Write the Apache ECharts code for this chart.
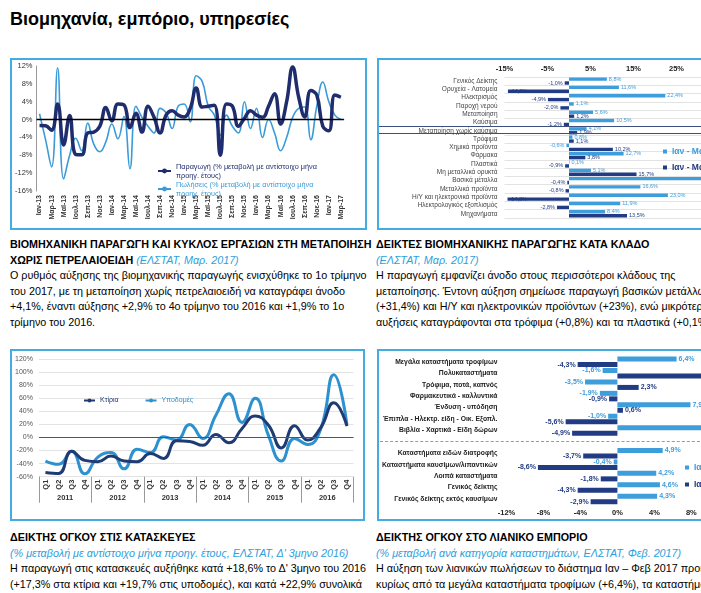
<!DOCTYPE html>
<html><head><meta charset="utf-8">
<script src="https://cdn.jsdelivr.net/npm/echarts@6/dist/echarts.min.js"></script>
<style>
html,body{margin:0;padding:0;background:#fff;}
body{width:701px;height:593px;overflow:hidden;position:relative;font-family:'Liberation Sans',Arial,sans-serif;}
.box{position:absolute;border:2px solid #43ADE0;box-sizing:border-box;}
.chart{position:absolute;}
.txt{position:absolute;white-space:nowrap;font-size:10.75px;line-height:15.5px;color:#000;}
.txt b{font-weight:bold;}
.src{color:#2EA0DC;font-style:italic;}
</style></head><body>
<div style="position:absolute;left:10px;top:9px;font-size:18px;font-weight:bold;">Βιομηχανία, εμπόριο, υπηρεσίες</div>

<div class="box" style="left:10px;top:58px;width:357px;height:172px;"></div>
<div class="box" style="left:377px;top:58px;width:340px;height:172px;"></div>
<div class="box" style="left:10px;top:349px;width:355px;height:172px;"></div>
<div class="box" style="left:377px;top:349px;width:340px;height:172px;"></div>

<div id="c1" class="chart" style="left:12px;top:60px;width:353px;height:168px;"></div>
<div id="c2" class="chart" style="left:379px;top:60px;width:400px;height:168px;"></div>
<div id="c3" class="chart" style="left:12px;top:351px;width:351px;height:168px;"></div>
<div id="c4" class="chart" style="left:379px;top:351px;width:400px;height:168px;"></div>

<div style="position:absolute;left:379px;top:125.5px;width:330px;height:6px;border-top:1px solid #3b4f80;border-bottom:1px solid #3b4f80;"></div>
<div style="position:absolute;left:380px;top:441px;width:330px;height:0;border-top:1px dashed #9a9a9a;"></div>

<div class="txt" style="left:10px;top:237px;"><b>ΒΙΟΜΗΧΑΝΙΚΗ ΠΑΡΑΓΩΓΗ ΚΑΙ ΚΥΚΛΟΣ ΕΡΓΑΣΙΩΝ ΣΤΗ ΜΕΤΑΠΟΙΗΣΗ</b><br><b>ΧΩΡΙΣ ΠΕΤΡΕΛΑΙΟΕΙΔΗ</b> <span class="src">(ΕΛΣΤΑΤ, Μαρ. 2017)</span><br>Ο ρυθμός αύξησης της βιομηχανικής παραγωγής ενισχύθηκε το 1ο τρίμηνο<br>του 2017, με τη μεταποίηση χωρίς πετρελαιοειδή να καταγράφει άνοδο<br>+4,1%, έναντι αύξησης +2,9% το 4ο τρίμηνο του 2016 και +1,9% το 1ο<br>τρίμηνο του 2016.</div>

<div class="txt" style="left:376px;top:237px;"><b>ΔΕΙΚΤΕΣ ΒΙΟΜΗΧΑΝΙΚΗΣ ΠΑΡΑΓΩΓΗΣ ΚΑΤΑ ΚΛΑΔΟ</b><br><span class="src">(ΕΛΣΤΑΤ, Μαρ. 2017)</span><br>Η παραγωγή εμφανίζει άνοδο στους περισσότεροι κλάδους της<br>μεταποίησης. Έντονη αύξηση σημείωσε παραγωγή βασικών μετάλλων<br>(+31,4%) και Η/Υ και ηλεκτρονικών προϊόντων (+23%), ενώ μικρότερες<br>αυξήσεις καταγράφονται στα τρόφιμα (+0,8%) και τα πλαστικά (+0,1%).</div>

<div class="txt" style="left:10px;top:530px;"><b>ΔΕΙΚΤΗΣ ΟΓΚΟΥ ΣΤΙΣ ΚΑΤΑΣΚΕΥΕΣ</b><br><span class="src">(% μεταβολή με αντίστοιχο μήνα προηγ. έτους, ΕΛΣΤΑΤ, Δ' 3μηνο 2016)</span><br>Η παραγωγή στις κατασκευές αυξήθηκε κατά +18,6% το Δ' 3μηνο του 2016<br>(+17,3% στα κτίρια και +19,7% στις υποδομές), και κατά +22,9% συνολικά</div>

<div class="txt" style="left:376px;top:530px;"><b>ΔΕΙΚΤΗΣ ΟΓΚΟΥ ΣΤΟ ΛΙΑΝΙΚΟ ΕΜΠΟΡΙΟ</b><br><span class="src">(% μεταβολή ανά κατηγορία καταστημάτων, ΕΛΣΤΑΤ, Φεβ. 2017)</span><br>Η αύξηση των λιανικών πωλήσεων το διάστημα Ιαν – Φεβ 2017 προήλθε<br>κυρίως από τα μεγάλα καταστήματα τροφίμων (+6,4%), τα καταστήματα</div>

<script>
// ---------- Panel 1: industrial production & sales (monthly, % y/y) ----------
const monthNames = ['Ιαν','Φεβ','Μαρ','Απρ','Μαϊ','Ιουν','Ιουλ','Αυγ','Σεπ','Οκτ','Νοε','Δεκ'];
const monthYears = ['13','14','15','16','17'];
const production = [-1.3,-1.4,-2.4,3.5,-5.7,0.9,-7.8,-7.9,-3.0,-2.8,-1.5,2.7,
  -0.3,3.5,3.3,-1.8,1.4,-2.8,3.0,0.5,-3.0,1.0,2.0,1.0,
  0.6,2.5,7.1,2.8,3.0,3.2,-8.0,3.5,3.0,-1.5,0.3,2.0,
  1.0,0.5,3.0,5.8,-1.0,4.0,11.8,5.0,0.6,6.5,5.5,-1.5,
  -2.5,5.5,5.0];
const sales = [1.3,-4.5,-10.6,11.6,-13.3,-8.0,-4.2,-7.0,-0.8,-5.5,-7.2,-5.0,
  -1.0,-4.3,0.7,-11.0,3.0,0.5,-1.5,-3.0,2.5,1.5,-2.0,3.0,
  3.5,-0.5,9.8,8.5,3.0,1.0,-3.5,1.0,-1.5,-3.0,4.0,-2.0,
  2.5,-4.0,0.0,-3.0,-7.0,-4.0,0.5,2.5,2.8,-4.5,3.0,8.4,
  4.0,1.0,0.0];
const p1Names = ['Παραγωγή (% μεταβολή με αντίστοιχο μήνα\nπροηγ. έτους)','Πωλήσεις (% μεταβολή με αντίστοιχο μήνα\nπροηγ. έτους)'];

// ---------- Panel 2: industrial production by branch ----------
const branches = ['Γενικός Δείκτης','Ορυχεία - Λατομεία','Ηλεκτρισμός','Παροχή νερού','Μεταποίηση','Καύσιμα','Μεταποίηση χωρίς καύσιμα','Τρόφιμα','Χημικά προϊόντα','Φάρμακα','Πλαστικά','Μη μεταλλικά ορυκτά','Βασικά μέταλλα','Μεταλλικά προϊόντα','Η/Υ και ηλεκτρονικά προϊόντα','Ηλεκτρολογικός εξοπλισμός','Μηχανήματα'];
const branch2017 = [8.8,11.6,22.4,1.1,5.6,10.5,4.1,0.8,-0.6,12.7,0.1,5.1,31.4,16.6,23.0,11.9,8.4];
const branch2016 = [-1.0,-14.2,-4.9,-2.0,1.2,-1.2,1.9,1.1,10.2,3.8,-0.9,15.7,-0.4,-0.8,-14.3,-2.8,13.5];
const p2Names = ['Ιαν - Μαρ 2017','Ιαν - Μαρ 2016'];
const p2Ticks = [-15,35,10];

// ---------- Panel 3: construction volume ----------
const quarters = ['Q1','Q2','Q3','Q4','Q1','Q2','Q3','Q4','Q1','Q2','Q3','Q4','Q1','Q2','Q3','Q4','Q1','Q2','Q3','Q4','Q1','Q2','Q3','Q4'];
const qYears = ['2011','2012','2013','2014','2015','2016'];
const buildings = [-53.5,-55,-21,-35,-37,-28.5,-36,-37,-24.5,-32,-5,-6,-12,4.6,-8,13.8,33,19,-16,18,-4,15,53,17.3];
const infrastructure = [-36,-41,-21,-55.6,-30,-23,-48,-18,-23,1,-4,20,-1.5,34,67,23,60,3.5,-36,-1.5,-10.7,13,96,19.7];
const p3Names = ['Κτίρια','Υποδομές'];

// ---------- Panel 4: retail volume by store type ----------
const stores = ['Μεγάλα καταστήματα τροφίμων','Πολυκαταστήματα','Τρόφιμα, ποτά, καπνός','Φαρμακευτικά - καλλυντικά','Ένδυση - υπόδηση','Έπιπλα - Ηλεκτρ. είδη - Οικ. Εξοπλ.','Βιβλία - Χαρτικά - Είδη δώρων','','Καταστήματα ειδών διατροφής','Καταστήματα καυσίμων/λιπαντικών','Λοιπά καταστήματα','Γενικός δείκτης','Γενικός δείκτης εκτός καυσίμων'];
const stores2017 = [6.4,-1.6,-3.5,-1.9,7.9,-1.0,11.0,null,4.9,-0.4,4.2,4.6,4.3];
const stores2016 = [-4.3,12.5,2.3,-0.9,0.6,-5.6,-4.9,null,-3.7,-8.6,-1.8,-4.3,-2.9];
const p4Names = ['Ιαν - Φεβ 2017','Ιαν - Φεβ 2016'];
const p4Ticks = [-12,16,4];

const FONT = 'Liberation Sans, Arial, sans-serif';
const NAVY = '#1F2D6E', LIGHT = '#3A9BD8';
const BAR_LIGHT = '#3E9DDB', BAR_DARK = '#213C84';
const fmt = v => v.toFixed(1).replace('.', ',') + '%';

const months = [];
monthYears.forEach(y => monthNames.forEach(m => months.push(m + '-' + y)));
months.length = production.length;

// Panel 1
echarts.init(document.getElementById('c1')).setOption({
  animation: false,
  textStyle: {fontFamily: FONT},
  grid: {left: 23.3, top: 6, width: 308.6, height: 125},
  legend: {
    orient: 'vertical', left: 140, top: 97, itemGap: 0, itemWidth: 13, itemHeight: 6,
    textStyle: {fontSize: 7.3, lineHeight: 9, fontFamily: FONT},
    data: [{name: p1Names[0], textStyle: {color: NAVY}}, {name: p1Names[1], textStyle: {color: LIGHT}}]
  },
  xAxis: {
    type: 'category', data: months, boundaryGap: true,
    axisLine: {lineStyle: {color: '#999'}}, axisTick: {show: false},
    axisLabel: {interval: 1, rotate: 90, fontSize: 7, fontWeight: 'bold', color: '#333', margin: 4}
  },
  yAxis: {
    type: 'value', min: -16, max: 12, interval: 4,
    axisLine: {show: true, lineStyle: {color: '#999'}}, axisTick: {show: false}, splitLine: {show: false},
    axisLabel: {formatter: v => v + '%', fontSize: 7.5, color: '#333', margin: 4}
  },
  series: [
    {name: p1Names[0], type: 'line', data: production, smooth: 0.45, symbol: 'none',
     lineStyle: {color: NAVY, width: 3.5}, itemStyle: {color: NAVY}, z: 3,
     markLine: {silent: true, symbol: 'none', label: {show: false}, lineStyle: {color: '#000', width: 1.3, type: 'solid'}, data: [{yAxis: 0}]}},
    {name: p1Names[1], type: 'line', data: sales, smooth: 0.45, symbol: 'none',
     lineStyle: {color: LIGHT, width: 1.6}, itemStyle: {color: LIGHT}, z: 2}
  ]
});

function barData(vals, insideLimit) {
  return vals.map(v => v == null ? null : {
    value: v,
    label: {position: v < 0 ? (v <= insideLimit ? 'insideLeft' : 'left') : 'right'}
  });
}

// Panel 2
echarts.init(document.getElementById('c2')).setOption({
  animation: false,
  textStyle: {fontFamily: FONT},
  grid: {left: 125.5, top: 16.9, width: 215, height: 141},
  legend: {
    orient: 'vertical', left: 279, top: 82, itemGap: 7, itemWidth: 4, itemHeight: 4, icon: 'rect',
    textStyle: {fontSize: 8.5, fontWeight: 'bold'},
    data: [{name: p2Names[0], textStyle: {color: BAR_LIGHT}}, {name: p2Names[1], textStyle: {color: BAR_DARK}}]
  },
  xAxis: {
    type: 'value', position: 'top', min: p2Ticks[0], max: p2Ticks[1], interval: p2Ticks[2],
    axisLine: {show: false}, axisTick: {show: false}, splitLine: {show: false},
    axisLabel: {formatter: v => v + '%', fontSize: 7.5, fontWeight: 'bold', color: '#222', margin: 4}
  },
  yAxis: {
    type: 'category', data: branches, inverse: true,
    axisLine: {show: false}, axisTick: {show: false},
    splitLine: {show: true, lineStyle: {color: '#dcdcdc', width: 0.8}},
    axisLabel: {interval: 0, fontSize: 6.5, color: '#444', margin: 7}
  },
  series: [
    {name: p2Names[0], type: 'bar', data: barData(branch2017, -10), barWidth: 3.4, barGap: '15%',
     itemStyle: {color: BAR_LIGHT},
     label: {show: true, fontSize: 5.5, color: BAR_LIGHT, distance: 2, formatter: p => fmt(p.value)}},
    {name: p2Names[1], type: 'bar', data: barData(branch2016, -10), barWidth: 3.4,
     itemStyle: {color: BAR_DARK},
     label: {show: true, fontSize: 5.5, color: BAR_DARK, distance: 2, formatter: p => fmt(p.value)}}
  ]
});

// Panel 3
echarts.init(document.getElementById('c3')).setOption({
  animation: false,
  textStyle: {fontFamily: FONT},
  grid: {left: 20.6, top: 8, width: 320.9, height: 117.7},
  legend: {
    left: 66, top: 41, itemGap: 26, itemWidth: 11, itemHeight: 5,
    textStyle: {fontSize: 7},
    data: [{name: p3Names[0], textStyle: {color: '#1F3B73'}}, {name: p3Names[1], textStyle: {color: '#2E91CF'}}]
  },
  xAxis: [
    {type: 'category', data: quarters, boundaryGap: true,
     axisLine: {show: false}, axisTick: {show: false},
     axisLabel: {interval: 0, rotate: 90, fontSize: 7.5, fontWeight: 'bold', color: '#333', margin: 3}},
    {type: 'category', data: qYears, boundaryGap: true, position: 'bottom',
     axisLine: {show: false},
     axisTick: {show: true, length: 26, lineStyle: {color: '#999'}},
     axisLabel: {fontSize: 7.5, fontWeight: 'bold', color: '#333', margin: 17}}
  ],
  yAxis: {
    type: 'value', min: -60, max: 120, interval: 20,
    axisLine: {show: false}, axisTick: {show: false},
    splitLine: {lineStyle: {color: '#e3e3e3'}},
    axisLabel: {formatter: v => v + '%', fontSize: 7, color: '#555', margin: 6}
  },
  series: [
    {name: p3Names[0], type: 'line', data: buildings, smooth: 0.5, symbol: 'none',
     lineStyle: {color: '#1F3B73', width: 3}, itemStyle: {color: '#1F3B73'}, z: 3,
     markLine: {silent: true, symbol: 'none', label: {show: false}, lineStyle: {color: '#555', width: 1, type: 'solid'}, data: [{yAxis: 0}]}},
    {name: p3Names[1], type: 'line', data: infrastructure, smooth: 0.5, symbol: 'none',
     lineStyle: {color: '#2E91CF', width: 3}, itemStyle: {color: '#2E91CF'}, z: 2}
  ]
});

// Panel 4
echarts.init(document.getElementById('c4')).setOption({
  animation: false,
  textStyle: {fontFamily: FONT},
  grid: {left: 120.3, top: 5.1, width: 266, height: 148.6},
  legend: {
    orient: 'vertical', left: 301, top: 107, itemGap: 8, itemWidth: 4, itemHeight: 4, icon: 'rect',
    textStyle: {fontSize: 8.5, fontWeight: 'bold'},
    data: [{name: p4Names[0], textStyle: {color: BAR_LIGHT}}, {name: p4Names[1], textStyle: {color: BAR_DARK}}]
  },
  xAxis: {
    type: 'value', min: p4Ticks[0], max: p4Ticks[1], interval: p4Ticks[2],
    axisLine: {show: false}, axisTick: {show: false}, splitLine: {show: false},
    axisLabel: {formatter: v => v + '%', fontSize: 7.5, fontWeight: 'bold', color: '#222', margin: 4}
  },
  yAxis: {
    type: 'category', data: stores, inverse: true,
    axisLine: {show: false}, axisTick: {show: false}, splitLine: {show: false},
    axisLabel: {interval: 0, fontSize: 6.8, fontWeight: 'bold', color: '#222', margin: 9}
  },
  series: [
    {name: p4Names[0], type: 'bar', data: barData(stores2017, -99), barWidth: 5, barGap: '10%',
     itemStyle: {color: BAR_LIGHT},
     label: {show: true, fontSize: 7, fontWeight: 'bold', color: BAR_LIGHT, distance: 2, formatter: p => fmt(p.value)}},
    {name: p4Names[1], type: 'bar', data: barData(stores2016, -99), barWidth: 5,
     itemStyle: {color: BAR_DARK},
     label: {show: true, fontSize: 7, fontWeight: 'bold', color: BAR_DARK, distance: 2, formatter: p => fmt(p.value)}}
  ]
});
</script>
</body></html>
